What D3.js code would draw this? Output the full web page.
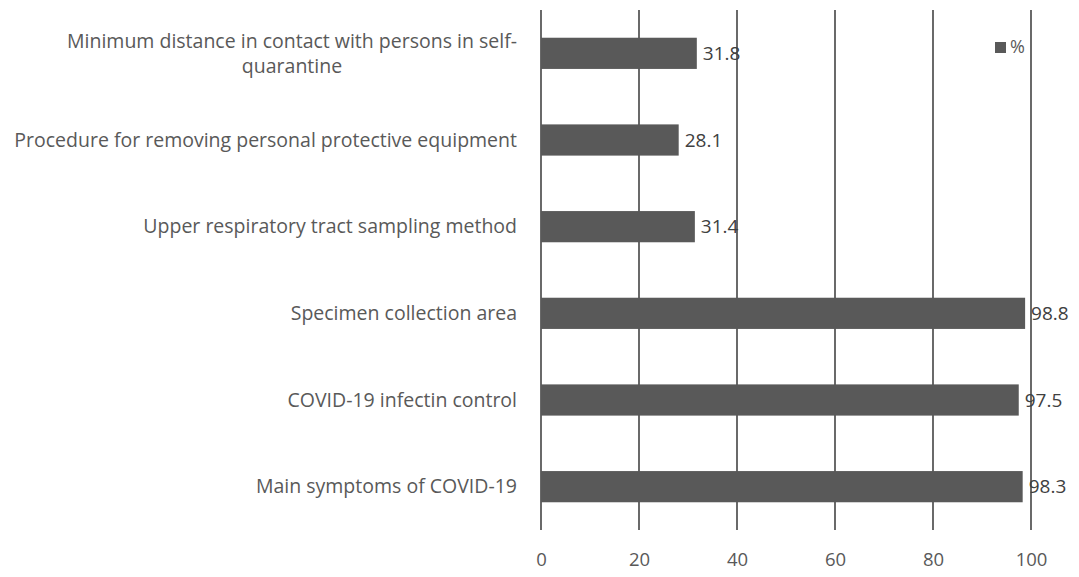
<!DOCTYPE html>
<html>
<head>
<meta charset="utf-8">
<script src="https://cdn.jsdelivr.net/npm/d3@7"></script>
<style>
  html, body { margin: 0; padding: 0; background: #fff; }
  svg { display: block; font-family: "Open Sans", Lato, sans-serif; }
</style>
</head>
<body>
<svg id="chart" width="1079" height="577"></svg>
<script>
// Knowledge items (top to bottom) and share of correct answers in %
const categories = [
  ["Minimum distance in contact with persons in self-", "quarantine"],
  ["Procedure for removing personal protective equipment"],
  ["Upper respiratory tract sampling method"],
  ["Specimen collection area"],
  ["COVID-19 infectin control"],
  ["Main symptoms of COVID-19"]
];
const values = [31.8, 28.1, 31.4, 98.8, 97.5, 98.3];
const xTicks = [0, 20, 40, 60, 80, 100];
const seriesName = "%";

const svg = d3.select("#chart");
const margin = { left: 541, right: 48, top: 10, bottom: 47 };
const W = 1079, H = 577;
const font = "'Open Sans', Lato, sans-serif";

const x = d3.scaleLinear().domain([0, 100]).range([margin.left, W - margin.right]);
const y = d3.scaleBand().domain(d3.range(categories.length))
  .range([margin.top, H - margin.bottom]).paddingInner(0.64).paddingOuter(0.32);

const barColor = "#595959";
const textColor = "#595959";

// vertical gridlines
svg.append("g").selectAll("line").data(xTicks).join("line")
  .attr("x1", d => x(d)).attr("x2", d => x(d))
  .attr("y1", margin.top).attr("y2", H - margin.bottom)
  .attr("stroke", "#1a1a1a").attr("stroke-width", 1.3);

// bars
svg.append("g").selectAll("rect").data(values).join("rect")
  .attr("x", x(0)).attr("y", (d, i) => y(i))
  .attr("width", d => x(d) - x(0)).attr("height", y.bandwidth())
  .attr("fill", barColor);

// value labels
svg.append("g").selectAll("text").data(values).join("text")
  .attr("x", d => x(d) + 6).attr("y", (d, i) => y(i) + y.bandwidth() / 2)
  .attr("dy", "0.35em").attr("font-size", 19).attr("fill", "#404040")
  .text(d => d.toFixed(1));

// x-axis tick labels
const xAxis = d3.axisBottom(x).tickValues(xTicks).tickSize(0).tickPadding(0);
const gx = svg.append("g").attr("transform", `translate(0,${H - 17})`).call(xAxis);
gx.select(".domain").remove();
gx.selectAll("text").attr("font-size", 18.5).attr("fill", textColor)
  .attr("font-family", font).attr("dy", "0.35em");

// category labels
const labelRight = 517;
const lineH = 25;
const labels = svg.append("g");
categories.forEach((lines, i) => {
  const cy = y(i) + y.bandwidth() / 2;
  const g = labels.append("g");
  const t = g.append("text").attr("font-size", 19.5).attr("fill", textColor)
    .attr("text-anchor", "middle");
  lines.forEach((s, k) => {
    t.append("tspan").attr("x", 0)
      .attr("y", cy + (k - (lines.length - 1) / 2) * lineH)
      .attr("dy", "0.35em").text(s);
  });
  const bb = t.node().getBBox();
  g.attr("transform", `translate(${labelRight - bb.width / 2},0)`);
});

// legend
const lg = svg.append("g").attr("transform", "translate(995,47)");
lg.append("rect").attr("x", 0).attr("y", -5).attr("width", 11).attr("height", 11).attr("fill", barColor);
lg.append("text").attr("x", 15).attr("dy", "0.35em").attr("font-size", 18)
  .attr("fill", textColor).text(seriesName);
</script>
</body>
</html>
